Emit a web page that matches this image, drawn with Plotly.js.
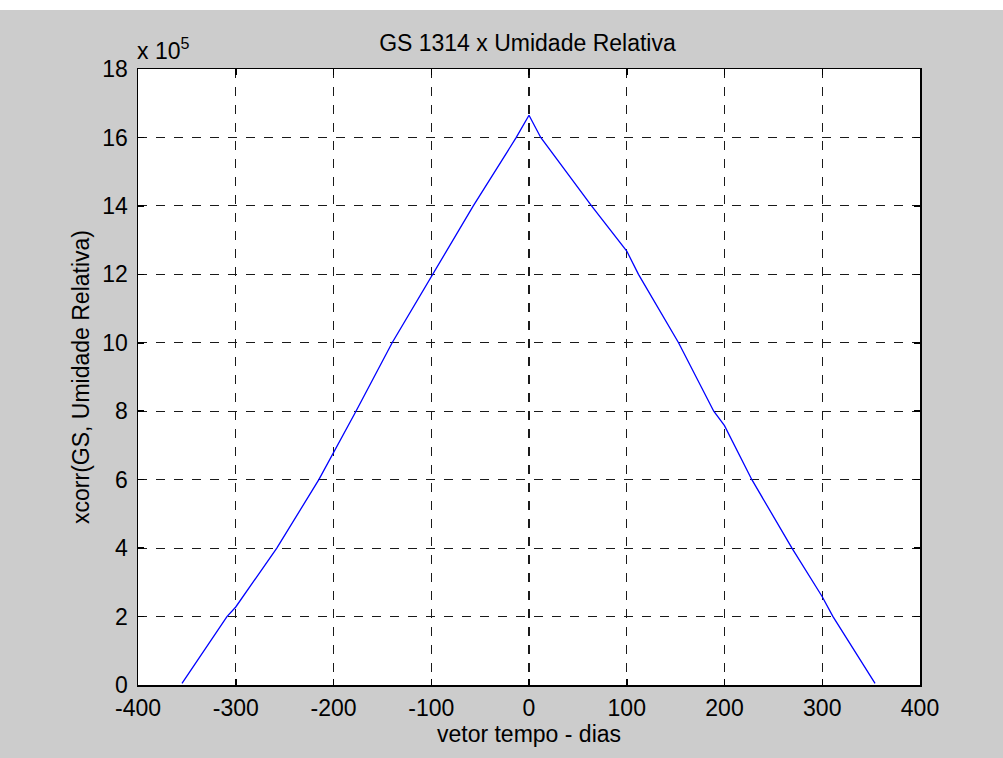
<!DOCTYPE html>
<html>
<head>
<meta charset="utf-8">
<script src="https://cdn.plot.ly/plotly-3.0.1.min.js"></script>
<style>
  html, body { margin: 0; padding: 0; background: #cccccc; }
  #chart { width: 1003px; height: 758px; }
</style>
</head>
<body>
<div id="chart"></div>
<script>
// Lag in days (vetor tempo)
const lagDays = [-355, -309, -300, -258, -215, -200, -177, -140, -100, -57, -13, 0,
                 12, 64, 100, 112, 153, 189, 200, 228, 269, 300, 311, 354];
// xcorr(GS, Umidade Relativa), in units of 10^5
const xcorrValues = [0.05, 2.0, 2.28, 4.0, 6.0, 6.79, 8.0, 10.0, 11.94, 14.0, 16.0, 16.65,
                     16.0, 14.0, 12.68, 12.0, 10.0, 8.0, 7.58, 6.0, 4.0, 2.58, 2.0, 0.05];

const xTicks = [-400, -300, -200, -100, 0, 100, 200, 300, 400];
const yTicks = [0, 2, 4, 6, 8, 10, 12, 14, 16, 18];

const chartTitle = 'GS 1314 x Umidade Relativa';
const xTitle = 'vetor tempo - dias';
const yTitle = 'xcorr(GS, Umidade Relativa)';
const exponentLabel = 'x 10<sup>5</sup>';

const FONT = 'Liberation Sans, Arial, sans-serif';
const FS = 23;

const trace = {
  x: lagDays,
  y: xcorrValues,
  type: 'scatter',
  mode: 'lines',
  line: { color: '#0000ff', width: 1.3 },
  hoverinfo: 'skip'
};

const axisCommon = {
  showline: true,
  linecolor: '#000000',
  linewidth: 1.5,
  mirror: 'ticks',
  ticks: 'inside',
  ticklen: 6,
  tickwidth: 1.5,
  tickcolor: '#000000',
  showgrid: true,
  gridcolor: '#1a1a1a',
  gridwidth: 1.2,
  griddash: 'dash',
  zeroline: false,
  tickfont: { family: FONT, size: FS, color: '#000000' },
  fixedrange: true
};

const layout = {
  width: 1003,
  height: 758,
  paper_bgcolor: '#cccccc',
  plot_bgcolor: '#ffffff',
  margin: { l: 138, r: 83, t: 69, b: 73 },
  showlegend: false,
  title: {
    text: chartTitle,
    font: { family: FONT, size: FS, color: '#000000' },
    x: 0.498, xref: 'paper', xanchor: 'center',
    y: 1 - 43 / 758, yref: 'container', yanchor: 'middle'
  },
  xaxis: Object.assign({}, axisCommon, {
    range: [-400, 400],
    tickvals: xTicks,
    ticktext: xTicks.map(String),
    ticklabelstandoff: 2,
    title: { text: xTitle, font: { family: FONT, size: FS, color: '#000000' }, standoff: 2 }
  }),
  yaxis: Object.assign({}, axisCommon, {
    range: [0, 18],
    tickvals: yTicks,
    ticktext: yTicks.map(String),
    ticklabelstandoff: 4,
    title: { text: yTitle, font: { family: FONT, size: FS, color: '#000000' }, standoff: 6 }
  }),
  annotations: [{
    text: exponentLabel,
    xref: 'paper', yref: 'paper',
    x: 0, y: 1,
    xanchor: 'left', yanchor: 'bottom',
    xshift: -3, yshift: 3,
    showarrow: false,
    font: { family: FONT, size: FS, color: '#000000' }
  }],
  shapes: [{
    type: 'rect', xref: 'paper', yref: 'paper',
    x0: -0.2, x1: 1.2, y0: 1 + 59 / 616, y1: 1 + 80 / 616,
    fillcolor: '#ffffff', line: { width: 0 }, layer: 'below'
  }]
};

Plotly.newPlot('chart', [trace], layout, { displayModeBar: false, staticPlot: true });
</script>
</body>
</html>
